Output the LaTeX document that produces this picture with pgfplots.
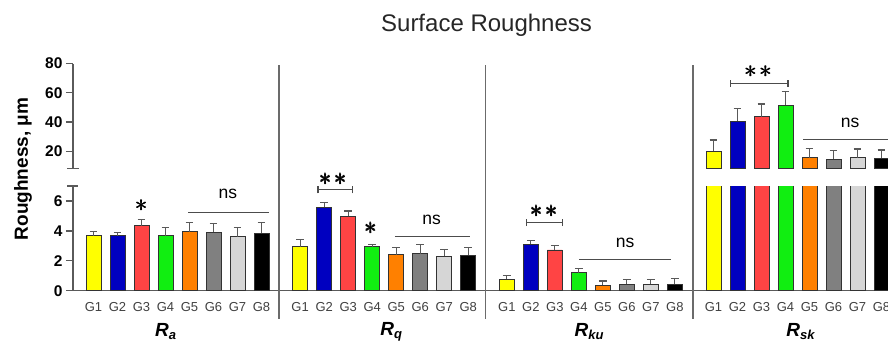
\documentclass[border=0pt]{standalone}
\usepackage{pgfplots}
\pgfplotsset{compat=1.18}
\usepackage{amsmath}
\usepackage{fontspec}
\setmainfont{Liberation Sans}
\definecolor{cGa}{HTML}{FFFF00}
\definecolor{cGb}{HTML}{0000C0}
\definecolor{cGc}{HTML}{FF4444}
\definecolor{cGd}{HTML}{11EE11}
\definecolor{cGe}{HTML}{FF8000}
\definecolor{cGf}{HTML}{808080}
\definecolor{cGg}{HTML}{D6D6D6}
\definecolor{cGh}{HTML}{000000}
\definecolor{axgray}{HTML}{5A5A5A}
\pgfplotsset{
  gbar/.style={ybar, bar shift=0pt, bar width=14.8pt, fill=#1, draw=black!80, line width=0.7pt,
    error bars/.cd, y dir=plus, y explicit,
    error bar style={line width=1.1pt, black!65},
    error mark options={rotate=90, mark size=3.9pt, line width=1.1pt, black!65}},
  common/.style={scale only axis, width=815pt, xmin=-0.854, xmax=33.1,
    tick align=outside, major tick length=7pt,
    axis line style={axgray, line width=1.4pt},
    y tick style={axgray, line width=1.3pt},
    x tick style={draw=none},
    /pgf/number format/assume math mode=true,
    yticklabel style={font=\fontsize{15.5}{15.5}\selectfont\bfseries},
    clip mode=individual},
}
\newcommand{\plab}[1]{{\fontsize{19}{19}\selectfont\bfseries\itshape R\raisebox{-0.35ex}{\fontsize{13}{13}\selectfont #1}}}
\newcommand{\onestar}{{\fontsize{25}{25}\selectfont\pmb{$\ast$}}}
\newcommand{\twostar}{\onestar\hspace{2.5pt}\onestar}
\begin{document}
\begin{tikzpicture}
% ---------------- lower axis (0..7)
\begin{axis}[common, at={(0,0)}, anchor=south west, height=104.7pt,
  ymin=0, ymax=7, ytick={0,2,4,6},
  axis x line*=bottom, axis y line*=left,
  xtick={0,1,2,3,4,5,6,7, 8.61,9.61,10.61,11.61,12.61,13.61,14.61,15.61, 17.22,18.22,19.22,20.22,21.22,22.22,23.22,24.22, 25.83,26.83,27.83,28.83,29.83,30.83,31.83,32.83},
  xticklabels={G1,G2,G3,G4,G5,G6,G7,G8,G1,G2,G3,G4,G5,G6,G7,G8,G1,G2,G3,G4,G5,G6,G7,G8,G1,G2,G3,G4,G5,G6,G7,G8},
  xticklabel style={font=\fontsize{13}{13}\selectfont, text=black!75, anchor=base, yshift=-13.8pt},
]
\addplot[gbar=cGa] coordinates {(0,3.68) +- (0,0.27) (8.61,2.95) +- (0,0.45) (17.22,0.76) +- (0,0.23) (25.83,20.15) +- (0,7.5)};
\addplot[gbar=cGb] coordinates {(1,3.68) +- (0,0.23) (9.61,5.57) +- (0,0.33) (18.22,3.11) +- (0,0.22) (26.83,40.7) +- (0,8.7)};
\addplot[gbar=cGc] coordinates {(2,4.35) +- (0,0.43) (10.61,4.97) +- (0,0.36) (19.22,2.73) +- (0,0.29) (27.83,43.6) +- (0,8.7)};
\addplot[gbar=cGd] coordinates {(3,3.68) +- (0,0.56) (11.61,2.95) +- (0,0.16) (20.22,1.21) +- (0,0.29) (28.83,51.6) +- (0,9.1)};
\addplot[gbar=cGe] coordinates {(4,3.95) +- (0,0.62) (12.61,2.42) +- (0,0.45) (21.22,0.38) +- (0,0.27) (29.83,15.6) +- (0,6.1)};
\addplot[gbar=cGf] coordinates {(5,3.90) +- (0,0.60) (13.61,2.48) +- (0,0.61) (22.22,0.43) +- (0,0.29) (30.83,14.7) +- (0,5.7)};
\addplot[gbar=cGg] coordinates {(6,3.61) +- (0,0.60) (14.61,2.30) +- (0,0.48) (23.22,0.43) +- (0,0.33) (31.83,15.6) +- (0,5.9)};
\addplot[gbar=cGh] coordinates {(7,3.84) +- (0,0.73) (15.61,2.37) +- (0,0.54) (24.22,0.43) +- (0,0.40) (32.83,15.2) +- (0,5.6)};
% break cap
\draw[axgray, line width=1.4pt] ([xshift=-5.5pt]rel axis cs:0,1) -- ([xshift=5.5pt]rel axis cs:0,1);
% dividers
\draw[axgray!90, line width=1.4pt] (axis cs:7.73,-1.89) -- (axis cs:7.73,15.1);
\draw[axgray!90, line width=1.4pt] (axis cs:16.34,-1.89) -- (axis cs:16.34,15.1);
\draw[axgray!90, line width=1.4pt] (axis cs:24.98,-1.89) -- (axis cs:24.98,15.1);
% panel labels
\node at (axis cs:3.0,-2.74) {\plab{a}};
\node at (axis cs:12.4,-2.74) {\plab{q}};
\node at (axis cs:20.65,-2.74) {\plab{ku}};
\node at (axis cs:29.45,-2.74) {\plab{sk}};
% y label and title
\node[rotate=90, font=\fontsize{19}{19}\selectfont\bfseries] at (axis cs:-2.94,8.14) {Roughness, μm};
\node[anchor=base, font=\fontsize{24}{24}\selectfont, text=black!85] at (axis cs:16.375,17.32) {Surface Roughness};
% significance marks
\tikzset{br/.style={black!70, line width=1.2pt}, st/.style={inner sep=0pt, yshift=-3pt}}
\node[st] at (axis cs:2,5.87) {\onestar};
\node[font=\fontsize{17.5}{17.5}\selectfont] at (axis cs:5.6,6.47) {ns};
\draw[br] (axis cs:3.94,5.22) -- (axis cs:7.31,5.22);
% panel 2
\node[st] at (axis cs:9.98,7.67) {\twostar};
\draw[br] (axis cs:9.35,6.74) -- (axis cs:10.8,6.74);
\draw[br] (axis cs:9.35,6.51) -- (axis cs:9.35,6.97);
\draw[br] (axis cs:10.8,6.51) -- (axis cs:10.8,6.97);
\node[st] at (axis cs:11.55,4.39) {\onestar};
\node[font=\fontsize{17.5}{17.5}\selectfont] at (axis cs:14.09,4.73) {ns};
\draw[br] (axis cs:12.56,3.61) -- (axis cs:15.69,3.61);
% panel 3
\node[st] at (axis cs:18.77,5.53) {\twostar};
\draw[br] (axis cs:18.05,4.55) -- (axis cs:19.53,4.55);
\draw[br] (axis cs:18.05,4.32) -- (axis cs:18.05,4.78);
\draw[br] (axis cs:19.53,4.32) -- (axis cs:19.53,4.78);
\node[font=\fontsize{17.5}{17.5}\selectfont] at (axis cs:22.15,3.21) {ns};
\draw[br] (axis cs:20.24,2.1) -- (axis cs:24.06,2.1);
% panel 4
\node[st] at (axis cs:27.7,14.83) {\twostar};
\draw[br] (axis cs:26.55,13.87) -- (axis cs:28.93,13.87);
\draw[br] (axis cs:26.55,13.64) -- (axis cs:26.55,14.1);
\draw[br] (axis cs:28.93,13.64) -- (axis cs:28.93,14.1);
\node[font=\fontsize{17.5}{17.5}\selectfont] at (axis cs:31.52,11.24) {ns};
\draw[br] (axis cs:29.57,10.13) -- (axis cs:34.5,10.13);
\end{axis}
% ---------------- upper axis (8.3..80)
\begin{axis}[common, at={(0,122.4pt)}, anchor=south west, height=104.8pt,
  ymin=8.3, ymax=80, ytick={20,40,60,80},
  hide x axis, axis y line*=left,
]
\addplot[gbar=cGa] coordinates {(25.83,20.15) +- (0,7.5)};
\addplot[gbar=cGb] coordinates {(26.83,40.7) +- (0,8.7)};
\addplot[gbar=cGc] coordinates {(27.83,43.6) +- (0,8.7)};
\addplot[gbar=cGd] coordinates {(28.83,51.6) +- (0,9.1)};
\addplot[gbar=cGe] coordinates {(29.83,15.6) +- (0,6.1)};
\addplot[gbar=cGf] coordinates {(30.83,14.7) +- (0,5.7)};
\addplot[gbar=cGg] coordinates {(31.83,15.6) +- (0,5.9)};
\addplot[gbar=cGh] coordinates {(32.83,15.2) +- (0,5.6)};
\draw[axgray, line width=1.4pt] ([xshift=-5.5pt]rel axis cs:0,0) -- ([xshift=5.5pt]rel axis cs:0,0);
\end{axis}
\pgfresetboundingbox
\path[use as bounding box] (-73pt,-58.3pt) rectangle (815pt,290.7pt);
\end{tikzpicture}
\end{document}
